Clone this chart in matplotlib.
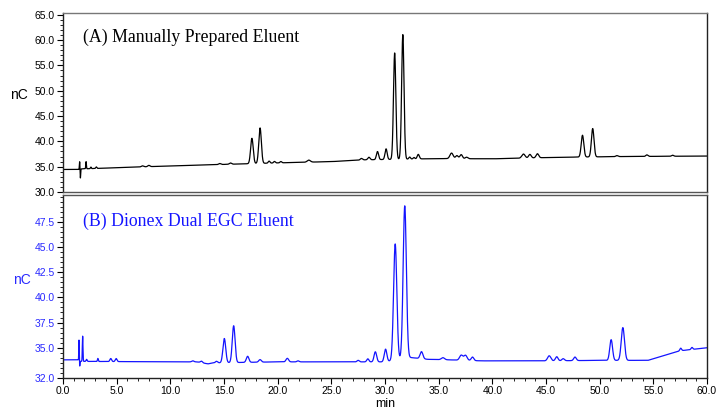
import numpy as np
import matplotlib
matplotlib.use("Agg")
import matplotlib.pyplot as plt
from matplotlib.ticker import MultipleLocator, FixedLocator, FormatStrFormatter

# ---------------- data ----------------
# Panel A: baseline knots (min, nC)
a_base_t = [0.0, 1.5, 1.6, 10.0, 20.0, 25.0, 28.0, 35.0, 40.0, 46.0, 52.0, 60.0]
a_base_v = [34.45, 34.45, 34.55, 35.15, 35.75, 36.0, 36.35, 36.6, 36.55, 36.85, 37.0, 37.1]
# Panel A peaks: retention time (min), height above baseline (nC), width (sigma, min)
a_peak_t = [1.55, 1.62, 2.15, 2.6, 3.1, 7.4, 8.0, 14.6, 15.6, 17.6, 18.36, 19.2, 19.7, 20.3,
            22.9, 27.8, 28.5, 29.3, 30.1, 30.9, 31.66, 32.3, 32.7, 33.1, 36.2, 36.7, 37.1,
            37.6, 42.9, 43.5, 44.2, 48.4, 49.35, 51.6, 54.4, 56.8]
a_peak_h = [1.5, -1.8, 1.4, 0.3, 0.3, 0.2, 0.25, 0.2, 0.25, 5.0, 7.0, 0.4, 0.3, 0.25,
            0.4, 0.3, 0.5, 1.6, 2.1, 21.0, 24.6, 0.4, 0.3, 0.9, 1.1, 0.6, 0.8,
            0.3, 0.8, 0.7, 0.8, 4.3, 5.6, 0.2, 0.3, 0.2]
a_peak_w = [0.025, 0.025, 0.03, 0.04, 0.05, 0.1, 0.1, 0.1, 0.1, 0.12, 0.12, 0.08, 0.08, 0.08,
            0.15, 0.1, 0.1, 0.1, 0.1, 0.11, 0.11, 0.08, 0.08, 0.1, 0.15, 0.12, 0.12,
            0.12, 0.15, 0.12, 0.12, 0.12, 0.12, 0.1, 0.1, 0.1]

# Panel B: baseline knots
b_base_t = [0.0, 1.45, 1.6, 10.0, 12.5, 13.5, 14.0, 20.0, 30.0, 32.2, 34.0, 36.0, 39.0,
            45.0, 50.0, 54.5, 57.5, 60.0]
b_base_v = [33.8, 33.8, 33.65, 33.6, 33.6, 33.4, 33.5, 33.6, 33.6, 34.05, 33.85, 33.8, 33.7,
            33.7, 33.75, 33.75, 34.7, 35.0]
b_peak_t = [1.49, 1.56, 1.83, 2.2, 3.25, 4.45, 4.95, 12.1, 12.9, 14.3, 15.03, 15.9, 17.2,
            18.36, 20.9, 21.9, 27.5, 28.4, 29.1, 30.05, 30.95, 31.84, 33.4, 35.4, 37.1,
            37.5, 38.15, 45.3, 46.0, 46.6, 47.7, 51.07, 52.16, 57.55, 58.6]
b_peak_h = [2.0, -0.5, 2.5, 0.2, 0.3, 0.3, 0.3, 0.1, 0.15, 0.15, 2.4, 3.65, 0.6,
            0.25, 0.35, 0.1, 0.15, 0.3, 1.0, 1.25, 11.5, 15.1, 0.7, 0.2, 0.5,
            0.5, 0.35, 0.5, 0.4, 0.2, 0.35, 2.05, 3.25, 0.25, 0.2]
b_peak_w = [0.02, 0.02, 0.03, 0.05, 0.04, 0.08, 0.08, 0.1, 0.1, 0.1, 0.13, 0.13, 0.12,
            0.12, 0.12, 0.1, 0.1, 0.1, 0.12, 0.12, 0.15, 0.15, 0.13, 0.15, 0.15,
            0.15, 0.12, 0.15, 0.12, 0.12, 0.12, 0.13, 0.15, 0.08, 0.08]

a_yticks = [30.0, 35.0, 40.0, 45.0, 50.0, 55.0, 60.0, 65.0]
b_yticks = [32.0, 35.0, 37.5, 40.0, 42.5, 45.0, 47.5]
x_ticks = [0, 5, 10, 15, 20, 25, 30, 35, 40, 45, 50, 55, 60]


def trace(base_t, base_v, pt, ph, pw):
    t = np.linspace(0, 60, 12001)
    y = np.interp(t, base_t, base_v)
    for c, h, w in zip(pt, ph, pw):
        y = y + h * np.exp(-0.5 * ((t - c) / w) ** 2)
    return t, y


BLUE = '#1414ff'
LBLUE = '#2a2aff'
SANS = ['Liberation Sans', 'DejaVu Sans']
SERIF = ['Liberation Serif', 'DejaVu Serif']

fig = plt.figure(figsize=(7.2, 4.09), dpi=100)
W, H = 720, 409
axA = fig.add_axes([63 / W, 1 - 192 / H, 644 / W, (192 - 12.5) / H])
axB = fig.add_axes([63 / W, 1 - 378 / H, 644 / W, (378 - 195) / H])

tA, yA = trace(a_base_t, a_base_v, a_peak_t, a_peak_h, a_peak_w)
tB, yB = trace(b_base_t, b_base_v, b_peak_t, b_peak_h, b_peak_w)

axA.plot(tA, yA, color='black', lw=0.9)
axB.plot(tB, yB, color=BLUE, lw=0.9)

for ax in (axA, axB):
    ax.set_xlim(0, 60)
    for s in ax.spines.values():
        s.set_color('#222222')
        s.set_linewidth(1.0)
    ax.tick_params(axis='both', which='major', direction='out', length=4, width=0.8,
                   labelsize=7.5, pad=2)
    ax.tick_params(axis='both', which='minor', direction='out', length=2, width=0.6)
    ax.tick_params(top=False, right=False, which='both')

axA.spines['top'].set_color('#777777')
axA.spines['bottom'].set_color('#555555')
axB.spines['top'].set_color('#555555')

# Panel A axes
axA.set_ylim(30, 65.45)
axA.yaxis.set_major_locator(FixedLocator(a_yticks))
axA.yaxis.set_minor_locator(MultipleLocator(1.0))
axA.yaxis.set_major_formatter(FormatStrFormatter('%.1f'))
axA.tick_params(axis='x', which='both', bottom=False, labelbottom=False)
for lab in axA.get_yticklabels():
    lab.set_family(SANS)
axA.set_ylabel('nC', family=SANS, fontsize=10, rotation=0, labelpad=0)
axA.yaxis.set_label_coords(-0.069, 0.5)
axA.text(0.031, 0.864, '(A) Manually Prepared Eluent', transform=axA.transAxes,
         family=SERIF, fontsize=12.8, va='center', ha='left', color='black')

# Panel B axes
axB.set_ylim(32, 50.15)
axB.yaxis.set_major_locator(FixedLocator(b_yticks))
axB.yaxis.set_minor_locator(MultipleLocator(0.5))
axB.yaxis.set_major_formatter(FormatStrFormatter('%.1f'))
axB.xaxis.set_major_locator(FixedLocator(x_ticks))
axB.xaxis.set_minor_locator(MultipleLocator(1.0))
axB.xaxis.set_major_formatter(FormatStrFormatter('%.1f'))
axB.tick_params(axis='y', which='both', labelcolor=LBLUE)
for lab in axB.get_yticklabels() + axB.get_xticklabels():
    lab.set_family(SANS)
axB.set_ylabel('nC', family=SANS, fontsize=10, rotation=0, labelpad=0, color=LBLUE)
axB.yaxis.set_label_coords(-0.064, 0.5)
axB.set_xlabel('min', family=SANS, fontsize=9, labelpad=1)
axB.text(0.031, 0.858, '(B) Dionex Dual EGC Eluent', transform=axB.transAxes,
         family=SERIF, fontsize=12.8, va='center', ha='left', color=BLUE)

fig.savefig('out.png', dpi=100)
